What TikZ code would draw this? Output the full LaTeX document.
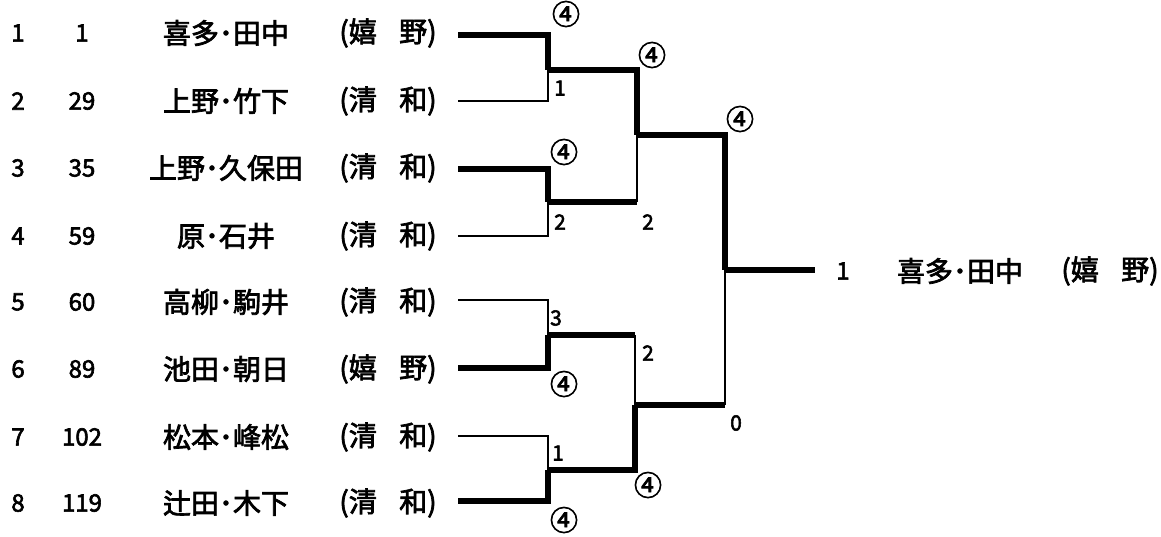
\documentclass[tikz,border=0pt]{standalone}
\usepackage{fontspec}
\setmainfont[FakeBold=2.5]{Noto Sans CJK JP}
\begin{document}
\begin{tikzpicture}[
			x=1pt, y=-1pt,
			win/.style={line width=5.5pt, draw=black},
			lose/.style={line width=1.5pt, draw=black},
			seed/.style={font=\fontsize{24}{24}\selectfont},
			player/.style={font=\fontsize{28}{28}\selectfont},
			score/.style={font=\fontsize{21}{21}\selectfont, inner sep=0pt},
			pts/.style={font=\fontsize{28}{28}\selectfont, inner sep=0pt}
		]
			\useasboundingbox (0,0) rectangle (1161,536);
			% entries
			\node[seed] (n1) at (18,33) {1};
			\node[seed] (k1) at (82,33) {1};
			\node[player] (p1) at (226,33) {喜多･田中};
			\node[player] (c1) at (388,33) {(嬉\hspace{0.8em}野)};
			\node[seed] (n2) at (18,101) {2};
			\node[seed] (k2) at (82,101) {29};
			\node[player] (p2) at (226,101) {上野･竹下};
			\node[player] (c2) at (388,101) {(清\hspace{0.8em}和)};
			\node[seed] (n3) at (18,168) {3};
			\node[seed] (k3) at (82,168) {35};
			\node[player] (p3) at (226,168) {上野･久保田};
			\node[player] (c3) at (388,168) {(清\hspace{0.8em}和)};
			\node[seed] (n4) at (18,236) {4};
			\node[seed] (k4) at (82,236) {59};
			\node[player] (p4) at (226,236) {原･石井};
			\node[player] (c4) at (388,236) {(清\hspace{0.8em}和)};
			\node[seed] (n5) at (18,302) {5};
			\node[seed] (k5) at (82,302) {60};
			\node[player] (p5) at (226,302) {高柳･駒井};
			\node[player] (c5) at (388,302) {(清\hspace{0.8em}和)};
			\node[seed] (n6) at (18,369) {6};
			\node[seed] (k6) at (82,369) {89};
			\node[player] (p6) at (226,369) {池田･朝日};
			\node[player] (c6) at (388,369) {(嬉\hspace{0.8em}野)};
			\node[seed] (n7) at (18,437) {7};
			\node[seed] (k7) at (82,437) {102};
			\node[player] (p7) at (226,437) {松本･峰松};
			\node[player] (c7) at (388,437) {(清\hspace{0.8em}和)};
			\node[seed] (n8) at (18,503) {8};
			\node[seed] (k8) at (82,503) {119};
			\node[player] (p8) at (226,503) {辻田･木下};
			\node[player] (c8) at (388,503) {(清\hspace{0.8em}和)};
			% bracket
			\coordinate (e1) at (458,35);
			\coordinate (e2) at (458,101);
			\coordinate (e3) at (458,169);
			\coordinate (e4) at (458,236);
			\coordinate (e5) at (458,300);
			\coordinate (e6) at (458,368);
			\coordinate (e7) at (458,436);
			\coordinate (e8) at (458,501);
			\coordinate (r1) at (548,70);
			\coordinate (r2) at (548,202);
			\coordinate (r3) at (548,335);
			\coordinate (r4) at (548,470);
			\coordinate (s1) at (637,135);
			\coordinate (s2) at (635,405);
			\coordinate (f) at (725,270);
			\coordinate (w) at (815,270);
			\draw[win] (e1) -| (r1);
			\draw[lose] (e2) -| (r1);
			\draw[win] (e3) -| (r2);
			\draw[lose] (e4) -| (r2);
			\draw[lose] (e5) -| (r3);
			\draw[win] (e6) -| (r3);
			\draw[lose] (e7) -| (r4);
			\draw[win] (e8) -| (r4);
			\draw[win] (r1) -- (r1 -| s1) -- (s1);
			\draw[win] (r2) -- (r2 -| s1);
			\draw[lose] (r2 -| s1) -- (s1);
			\draw[win] (r3) -- (r3 -| s2);
			\draw[lose] (r3 -| s2) -- (s2);
			\draw[win] (r4) -- (r4 -| s2) -- (s2);
			\draw[win] (s1) -- (s1 -| f) -- (f);
			\draw[win] (s2) -- (s2 -| f);
			\draw[lose] (s2 -| f) -- (f);
			\draw[win] (f) -- (w);
			% scores
			\node[pts] (g1) at (566,14) {④};
			\node[score] (h1) at (560,88) {1};
			\node[pts] (g2) at (564,152) {④};
			\node[score] (h2) at (560,222) {2};
			\node[score] (h3) at (556,318) {3};
			\node[pts] (g3) at (564,384) {④};
			\node[score] (h4) at (558,453) {1};
			\node[pts] (g4) at (564,520) {④};
			\node[pts] (g5) at (652,55) {④};
			\node[score] (h5) at (648,222) {2};
			\node[score] (h6) at (648,353) {2};
			\node[pts] (g6) at (648,485) {④};
			\node[pts] (g7) at (740,119) {④};
			\node[score] (h7) at (736,423) {0};
			% winner
			\node[seed] (wn) at (843,271) {1};
			\node[player] (wp) at (960,271) {喜多･田中};
			\node[player] (wc) at (1110,271) {(嬉\hspace{0.8em}野)};
		\end{tikzpicture}
\end{document}
